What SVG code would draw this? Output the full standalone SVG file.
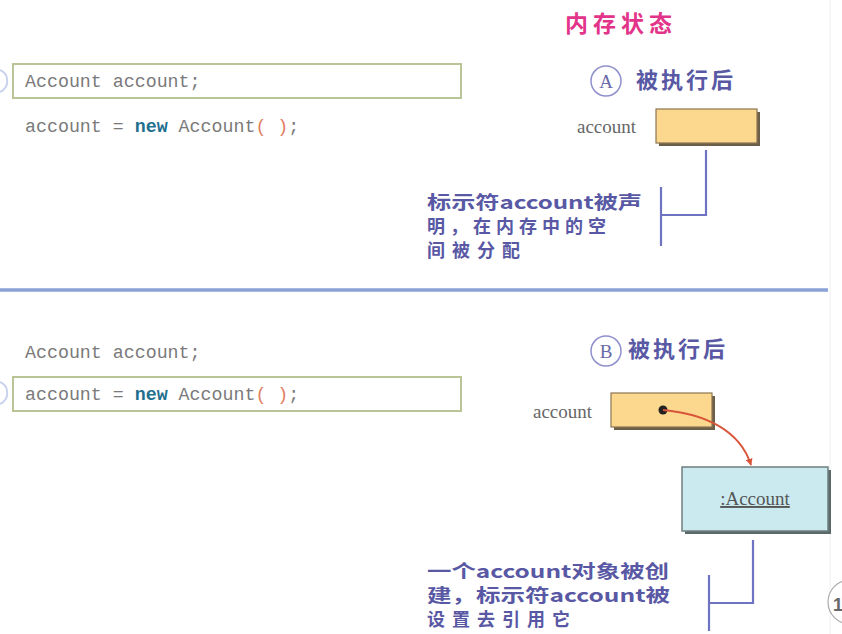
<svg xmlns="http://www.w3.org/2000/svg" width="842" height="634" viewBox="0 0 842 634">
<defs>
<marker id="arr" viewBox="0 0 10 10" refX="9" refY="5" markerWidth="7" markerHeight="7" orient="auto" markerUnits="userSpaceOnUse">
<path d="M0,0 L10,5 L0,10 z" fill="#d9553a"/>
</marker>
<style>
.code{font-family:"Liberation Mono","Courier New",monospace;font-size:18.3px;fill:#7a7a7a}
.kw{fill:#1f6f8f;font-weight:bold}
.par{fill:#e27d60}
.codebox{fill:#fff;stroke:#b9c497;stroke-width:2}
.lbl{font-family:"Liberation Serif","Times New Roman",serif;font-size:19px;fill:#666}
.cjk{font-family:"Noto Sans CJK SC",sans-serif;font-weight:bold;fill:#5858a4}
.note{font-size:18px}
.lead{stroke:#6f74c2;stroke-width:2.2;fill:none}
.circ{fill:#fff;stroke:#8f90cc;stroke-width:1.5}
.circt{font-family:"Liberation Serif",serif;font-size:19px;fill:#6a6aa8;text-anchor:middle}
</style>
</defs>
<rect width="842" height="634" fill="#fff"/>
<line x1="830" y1="0" x2="830" y2="634" stroke="#f0f0f0" stroke-width="1"/>
<path d="M0,70 A12,12 0 0 1 0,92" fill="none" stroke="#c9d3ee" stroke-width="2"/>
<path d="M0,382 A12,12 0 0 1 0,404" fill="none" stroke="#c9d3ee" stroke-width="2"/>

<text x="565" y="32" font-family="Noto Sans CJK SC,sans-serif" font-weight="bold" font-size="23" fill="#e2358a" letter-spacing="5">内存状态</text>

<g id="codeA">
<rect class="codebox" x="13" y="64" width="448" height="34"/>
<text class="code" x="25" y="87">Account account;</text>
<text class="code" x="25" y="132">account = <tspan class="kw">new</tspan> Account<tspan class="par">( )</tspan>;</text>
</g>

<g id="stateA">
<circle class="circ" cx="606" cy="81" r="15"/>
<text class="circt" x="606" y="88">A</text>
<text class="cjk" x="636" y="88" font-size="22" letter-spacing="3">被执行后</text>
<text class="lbl" x="577" y="133">account</text>
<rect x="659" y="112" width="101" height="34" fill="#6b5f4a"/>
<rect x="656" y="109" width="101" height="34" fill="#fcd78e" stroke="#8a7650" stroke-width="1.2"/>
</g>

<g id="noteA">
<text class="cjk note" x="427" y="209" textLength="215" lengthAdjust="spacingAndGlyphs">标示符account被声</text>
<text class="cjk note" x="427" y="233" letter-spacing="5">明，在内存中的空</text>
<text class="cjk note" x="427" y="257" letter-spacing="7">间被分配</text>
</g>

<line x1="0" y1="290" x2="828" y2="290" stroke="#8aa2d6" stroke-width="3.5"/>

<g id="codeB">
<text class="code" x="25" y="358">Account account;</text>
<rect class="codebox" x="13" y="377" width="448" height="34"/>
<text class="code" x="25" y="400">account = <tspan class="kw">new</tspan> Account<tspan class="par">( )</tspan>;</text>
</g>

<g id="stateB">
<circle class="circ" cx="606" cy="351" r="15"/>
<text class="circt" x="606" y="358">B</text>
<text class="cjk" x="628" y="357" font-size="22" letter-spacing="3">被执行后</text>
<text class="lbl" x="533" y="418">account</text>
<rect x="614" y="396" width="101" height="34" fill="#6b5f4a"/>
<rect x="611" y="393" width="101" height="34" fill="#fcd78e" stroke="#8a7650" stroke-width="1.2"/>
<circle cx="663" cy="410" r="4.5" fill="#222"/>
</g>

<g id="accountObj">
<rect x="685" y="470" width="146" height="64" fill="#5a6a6a"/>
<rect x="682" y="467" width="146" height="64" fill="#cbeaf0" stroke="#6f7f7f" stroke-width="1.5"/>
<text x="755" y="505" font-family="Liberation Serif,serif" font-size="19" fill="#555" text-anchor="middle" text-decoration="underline">:Account</text>
</g>

<g id="noteB">
<text class="cjk note" x="427" y="578" textLength="242" lengthAdjust="spacingAndGlyphs">一个account对象被创</text>
<text class="cjk note" x="427" y="602" textLength="243" lengthAdjust="spacingAndGlyphs">建，标示符account被</text>
<text class="cjk note" x="427" y="626" letter-spacing="7">设置去引用它</text>
</g>

<g id="connectors">
<polyline class="lead" points="706,150 706,215 661,215"/>
<line class="lead" x1="661" y1="187" x2="661" y2="246"/>
<path d="M663,410 C705,414 740,430 751,465" fill="none" stroke="#d9553a" stroke-width="1.8" marker-end="url(#arr)"/>
<polyline class="lead" points="753,540 753,603 709,603"/>
<line class="lead" x1="709" y1="575" x2="709" y2="631"/>
</g>

<circle cx="850" cy="602" r="22" fill="#fff" stroke="#aaa" stroke-width="1.2"/>
<text x="833" y="611" font-family="Liberation Sans,sans-serif" font-size="18" font-weight="bold" fill="#666">1</text>
</svg>
